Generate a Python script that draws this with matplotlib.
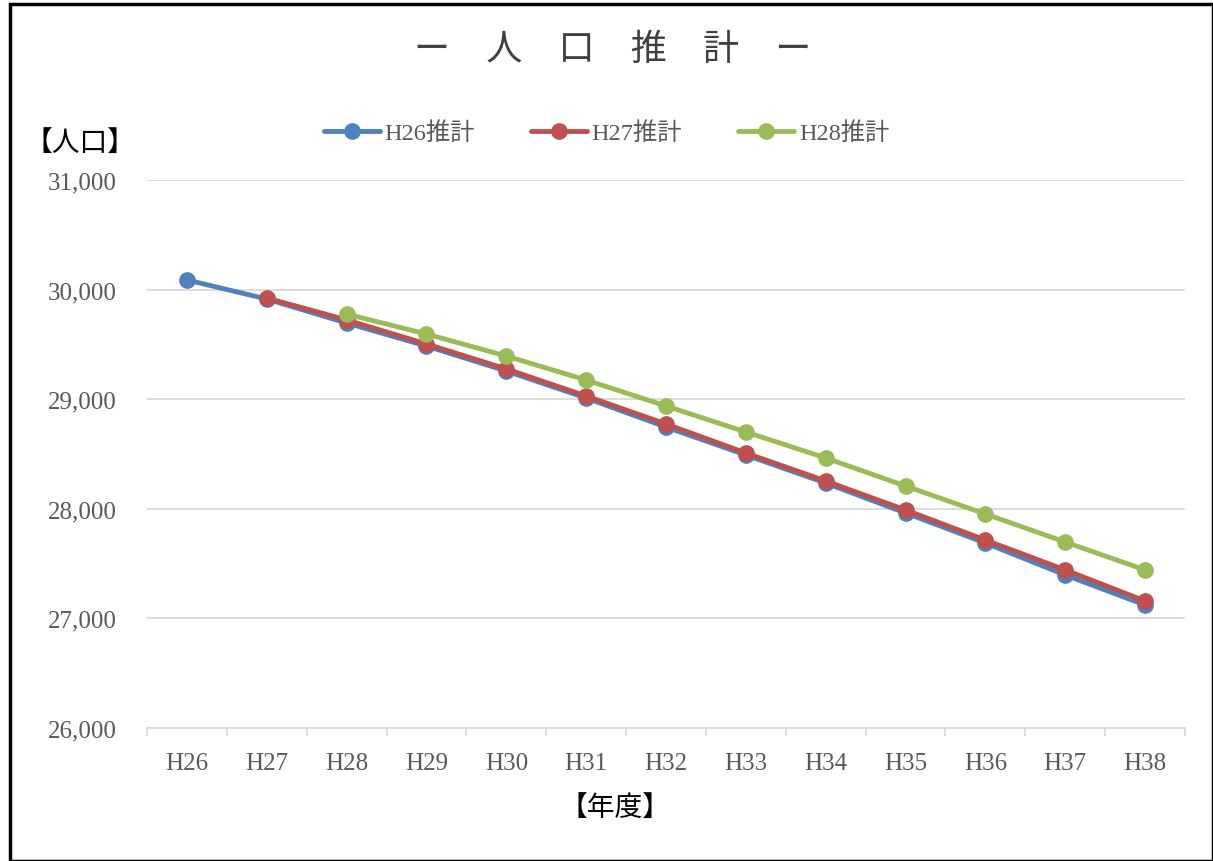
import matplotlib
matplotlib.use("Agg")
import matplotlib.pyplot as plt
from matplotlib.patches import Rectangle
from matplotlib.ticker import FuncFormatter, FixedLocator

plt.rcParams['font.family'] = ['Liberation Serif', 'Noto Sans CJK JP', 'DejaVu Sans']

years = ["H26", "H27", "H28", "H29", "H30", "H31", "H32", "H33", "H34", "H35", "H36", "H37", "H38"]
h26 = [30088, 29914, 29695, 29485, 29257, 29011, 28746, 28491, 28235, 27962, 27688, 27396, 27122]
h27 = [None, 29923, 29723, 29504, 29276, 29029, 28774, 28509, 28254, 27989, 27715, 27442, 27159]
h28 = [None, None, 29777, 29595, 29394, 29175, 28938, 28701, 28464, 28208, 27953, 27697, 27442]
series_names = ["H26推計", "H27推計", "H28推計"]
colors = ["#4F81BD", "#C0504D", "#9BBB59"]

fig = plt.figure(figsize=(12.13, 8.62), dpi=100)
ax = fig.add_axes([0.1212, 0.1543, 0.9769 - 0.1212, 0.79 - 0.1543])

xs = list(range(len(years)))
for data, name, c in zip([h26, h27, h28], series_names, colors):
    px = [x for x, v in zip(xs, data) if v is not None]
    py = [v for v in data if v is not None]
    ax.plot(px, py, color=c, lw=3.5, marker='o', markersize=11, label=name,
            solid_capstyle='round', zorder=3)

ax.set_xlim(-0.5, len(years) - 0.5)
ax.set_ylim(26000, 31000)
ax.set_yticks(range(26000, 31001, 1000))
ax.yaxis.set_major_formatter(FuncFormatter(lambda v, p: f"{int(v):,}"))
ax.set_xticks(xs)
ax.set_xticklabels(years)
ax.xaxis.set_minor_locator(FixedLocator([i - 0.5 for i in range(len(years) + 1)]))
ax.tick_params(axis='x', which='major', length=0, pad=17, labelsize=18, labelcolor='#595959')
ax.tick_params(axis='x', which='minor', length=6, color='#D9D9D9', width=1.2)
ax.tick_params(axis='y', length=0, pad=22, labelsize=18, labelcolor='#595959')
ax.grid(axis='y', color='#D9D9D9', lw=1.3, zorder=0)
for s in ['top', 'right', 'left']:
    ax.spines[s].set_visible(False)
ax.spines['bottom'].set_color('#D9D9D9')
ax.spines['bottom'].set_linewidth(1.3)

fig.text(0.505, 0.942, "ー　人　口　推　計　ー", ha='center', va='center', fontsize=26,
         color='#404040', family=['Noto Sans CJK JP', 'DejaVu Sans'])
fig.text(0.066, 0.834, "【人口】", ha='center', va='center', fontsize=20, color='black',
         family=['Noto Sans CJK JP', 'DejaVu Sans'])
fig.text(0.507, 0.063, "【年度】", ha='center', va='center', fontsize=20, color='black',
         family=['Noto Sans CJK JP', 'DejaVu Sans'])

leg = fig.legend(loc='center', bbox_to_anchor=(0.5, 0.845), ncol=3, frameon=False,
                 handlelength=2.3, columnspacing=2.3, handletextpad=0.2,
                 labelcolor='#595959',
                 prop={'family': ['Liberation Serif', 'Noto Sans CJK JP'], 'size': 17.5})

fig.patches.append(Rectangle((0.008, 0.0), 0.992, 0.994, transform=fig.transFigure,
                             fill=False, edgecolor='black', lw=2.5))

fig.savefig("out.png", dpi=100)
